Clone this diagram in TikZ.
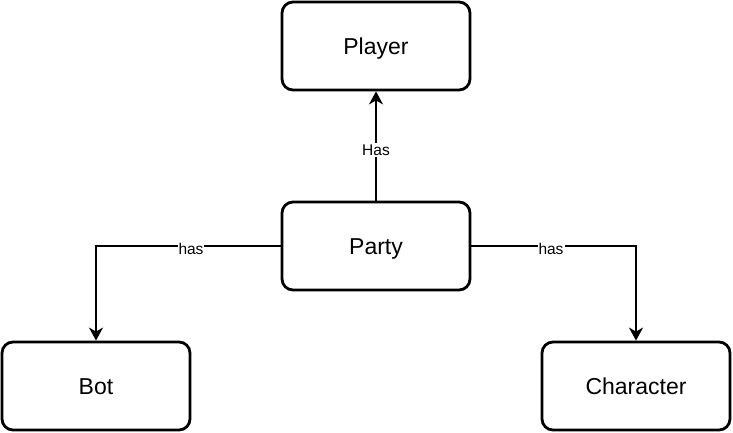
\documentclass[tikz,border=0pt]{standalone}
\usepackage{fontspec}
\setmainfont{Liberation Sans}
\usetikzlibrary{arrows.meta}
\begin{document}
\begin{tikzpicture}[x=1pt,y=-1pt,
  box/.style={draw=black,line width=2.8pt,rounded corners=11pt,minimum width=188pt,minimum height=88pt,inner sep=0pt,font=\fontsize{23}{27}\selectfont,text height=16.5pt,text depth=0pt,fill=white},
  conn/.style={line width=2.8pt,-{Stealth[length=13pt,width=14pt,inset=4pt]}},
  lbl/.style={fill=white,inner sep=1pt,font=\fontsize{15.5}{18}\selectfont,text height=11.1pt,text depth=0pt}]
\useasboundingbox (0,0) rectangle (733,433);
\node[box] (player) at (376,46) {Player};
\node[box] (party) at (376,246) {Party};
\node[box] (bot) at (96,386) {Bot};
\node[box] (char) at (636,386) {Character};
\draw[conn] (party.north) -- (player.south);
\draw[conn] (party.west) -| (bot.north);
\draw[conn] (party.east) -| (char.north);
\node[lbl] (l0) at (376,150) {Has};
\node[lbl] (l1) at (191,249) {has};
\node[lbl] (l2) at (551,249) {has};
\end{tikzpicture}
\end{document}
